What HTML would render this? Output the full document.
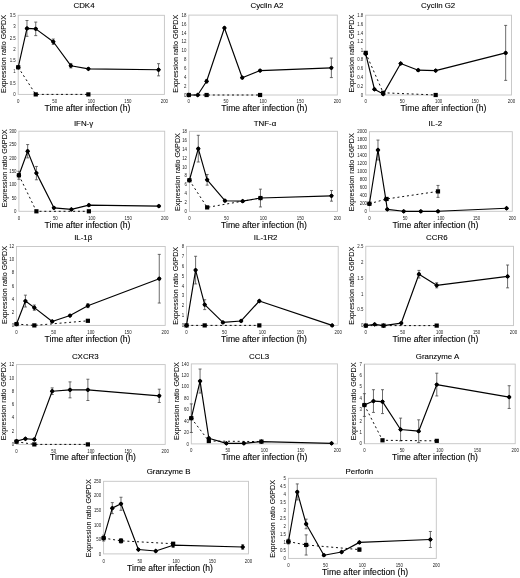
<!DOCTYPE html>
<html><head><meta charset="utf-8"><style>
html,body{margin:0;padding:0;background:#fff;}
svg{display:block;filter:blur(0.35px);}
text{font-family:"Liberation Sans",sans-serif;fill:#000;}
.tk{font-size:4.85px;fill:#222;}
.ti{font-size:7.9px;stroke:#000;stroke-width:0.1px;}
.yt{font-size:7.2px;stroke:#000;stroke-width:0.06px;}
.xt{font-size:8.65px;stroke:#000;stroke-width:0.1px;}
</style></head><body>
<svg width="520" height="578" viewBox="0 0 520 578">
<rect width="520" height="578" fill="#fff"/>
<rect x="18.2" y="15.3" width="146.20" height="79.10" fill="none" stroke="#c4c4c4" stroke-width="0.9"/>
<text transform="translate(15.80,96.05) scale(0.9,1)" class="tk" text-anchor="end">0</text>
<text transform="translate(15.80,84.75) scale(0.9,1)" class="tk" text-anchor="end">0.5</text>
<text transform="translate(15.80,73.45) scale(0.9,1)" class="tk" text-anchor="end">1</text>
<text transform="translate(15.80,62.15) scale(0.9,1)" class="tk" text-anchor="end">1.5</text>
<text transform="translate(15.80,50.85) scale(0.9,1)" class="tk" text-anchor="end">2</text>
<text transform="translate(15.80,39.55) scale(0.9,1)" class="tk" text-anchor="end">2.5</text>
<text transform="translate(15.80,28.25) scale(0.9,1)" class="tk" text-anchor="end">3</text>
<text transform="translate(15.80,16.95) scale(0.9,1)" class="tk" text-anchor="end">3.5</text>
<text transform="translate(18.20,102.65) scale(0.9,1)" class="tk" text-anchor="middle">0</text>
<text transform="translate(54.75,102.65) scale(0.9,1)" class="tk" text-anchor="middle">50</text>
<text transform="translate(91.30,102.65) scale(0.9,1)" class="tk" text-anchor="middle">100</text>
<text transform="translate(127.85,102.65) scale(0.9,1)" class="tk" text-anchor="middle">150</text>
<text transform="translate(164.40,102.65) scale(0.9,1)" class="tk" text-anchor="middle">200</text>
<text x="84" y="8.00" class="ti" text-anchor="middle">CDK4</text>
<text transform="translate(6.10,53.95) rotate(-90)" x="0" y="0" class="yt" text-anchor="middle">Expression ratio G6PDX</text>
<text x="87.45" y="111.10" class="xt" text-anchor="middle">Time after infection (h)</text>
<line x1="26.97" y1="20.50" x2="26.97" y2="36.32" stroke="#484848" stroke-width="0.8"/><line x1="25.47" y1="20.50" x2="28.47" y2="20.50" stroke="#484848" stroke-width="0.8"/><line x1="25.47" y1="36.32" x2="28.47" y2="36.32" stroke="#484848" stroke-width="0.8"/>
<line x1="35.74" y1="22.08" x2="35.74" y2="35.64" stroke="#484848" stroke-width="0.8"/><line x1="34.24" y1="22.08" x2="37.24" y2="22.08" stroke="#484848" stroke-width="0.8"/><line x1="34.24" y1="35.64" x2="37.24" y2="35.64" stroke="#484848" stroke-width="0.8"/>
<line x1="53.29" y1="39.03" x2="53.29" y2="44.45" stroke="#484848" stroke-width="0.8"/><line x1="51.79" y1="39.03" x2="54.79" y2="39.03" stroke="#484848" stroke-width="0.8"/><line x1="51.79" y1="44.45" x2="54.79" y2="44.45" stroke="#484848" stroke-width="0.8"/>
<line x1="70.83" y1="63.44" x2="70.83" y2="67.96" stroke="#484848" stroke-width="0.8"/><line x1="69.33" y1="63.44" x2="72.33" y2="63.44" stroke="#484848" stroke-width="0.8"/><line x1="69.33" y1="67.96" x2="72.33" y2="67.96" stroke="#484848" stroke-width="0.8"/>
<line x1="88.38" y1="68.18" x2="88.38" y2="69.54" stroke="#484848" stroke-width="0.8"/><line x1="86.88" y1="68.18" x2="89.88" y2="68.18" stroke="#484848" stroke-width="0.8"/><line x1="86.88" y1="69.54" x2="89.88" y2="69.54" stroke="#484848" stroke-width="0.8"/>
<line x1="158.55" y1="63.66" x2="158.55" y2="75.87" stroke="#484848" stroke-width="0.8"/><line x1="157.05" y1="63.66" x2="160.05" y2="63.66" stroke="#484848" stroke-width="0.8"/><line x1="157.05" y1="75.87" x2="160.05" y2="75.87" stroke="#484848" stroke-width="0.8"/>
<polyline points="18.20,67.28 35.74,94.40 88.38,94.40" fill="none" stroke="#000" stroke-width="0.95" stroke-dasharray="2 2.8"/>
<polyline points="18.20,67.28 26.97,28.41 35.74,28.86 53.29,41.74 70.83,65.70 88.38,68.86 158.55,69.77" fill="none" stroke="#000" stroke-width="1.15" stroke-linejoin="round"/>
<rect x="16.10" y="65.18" width="4.2" height="4.2" fill="#000"/>
<rect x="33.64" y="92.30" width="4.2" height="4.2" fill="#000"/>
<rect x="86.28" y="92.30" width="4.2" height="4.2" fill="#000"/>
<path d="M18.20 64.88L20.60 67.28L18.20 69.68L15.80 67.28Z" fill="#000"/><circle cx="18.20" cy="67.28" r="1.85" fill="#000"/>
<path d="M26.97 26.01L29.37 28.41L26.97 30.81L24.57 28.41Z" fill="#000"/><circle cx="26.97" cy="28.41" r="1.85" fill="#000"/>
<path d="M35.74 26.46L38.14 28.86L35.74 31.26L33.34 28.86Z" fill="#000"/><circle cx="35.74" cy="28.86" r="1.85" fill="#000"/>
<path d="M53.29 39.34L55.69 41.74L53.29 44.14L50.89 41.74Z" fill="#000"/><circle cx="53.29" cy="41.74" r="1.85" fill="#000"/>
<path d="M70.83 63.30L73.23 65.70L70.83 68.10L68.43 65.70Z" fill="#000"/><circle cx="70.83" cy="65.70" r="1.85" fill="#000"/>
<path d="M88.38 66.46L90.78 68.86L88.38 71.26L85.98 68.86Z" fill="#000"/><circle cx="88.38" cy="68.86" r="1.85" fill="#000"/>
<path d="M158.55 67.37L160.95 69.77L158.55 72.17L156.15 69.77Z" fill="#000"/><circle cx="158.55" cy="69.77" r="1.85" fill="#000"/>
<rect x="188.8" y="15.1" width="148.50" height="79.90" fill="none" stroke="#c4c4c4" stroke-width="0.9"/>
<text transform="translate(186.40,96.65) scale(0.9,1)" class="tk" text-anchor="end">0</text>
<text transform="translate(186.40,87.77) scale(0.9,1)" class="tk" text-anchor="end">2</text>
<text transform="translate(186.40,78.89) scale(0.9,1)" class="tk" text-anchor="end">4</text>
<text transform="translate(186.40,70.02) scale(0.9,1)" class="tk" text-anchor="end">6</text>
<text transform="translate(186.40,61.14) scale(0.9,1)" class="tk" text-anchor="end">8</text>
<text transform="translate(186.40,52.26) scale(0.9,1)" class="tk" text-anchor="end">10</text>
<text transform="translate(186.40,43.38) scale(0.9,1)" class="tk" text-anchor="end">12</text>
<text transform="translate(186.40,34.51) scale(0.9,1)" class="tk" text-anchor="end">14</text>
<text transform="translate(186.40,25.63) scale(0.9,1)" class="tk" text-anchor="end">16</text>
<text transform="translate(186.40,16.75) scale(0.9,1)" class="tk" text-anchor="end">18</text>
<text transform="translate(188.80,103.25) scale(0.9,1)" class="tk" text-anchor="middle">0</text>
<text transform="translate(225.93,103.25) scale(0.9,1)" class="tk" text-anchor="middle">50</text>
<text transform="translate(263.05,103.25) scale(0.9,1)" class="tk" text-anchor="middle">100</text>
<text transform="translate(300.18,103.25) scale(0.9,1)" class="tk" text-anchor="middle">150</text>
<text transform="translate(337.30,103.25) scale(0.9,1)" class="tk" text-anchor="middle">200</text>
<text x="266.9" y="7.90" class="ti" text-anchor="middle">Cyclin A2</text>
<text transform="translate(177.80,53.70) rotate(-90)" x="0" y="0" class="yt" text-anchor="middle">Expression ratio G6PDX</text>
<text x="264.30" y="111.10" class="xt" text-anchor="middle">Time after infection (h)</text>
<line x1="206.62" y1="79.46" x2="206.62" y2="83.02" stroke="#484848" stroke-width="0.8"/><line x1="205.12" y1="79.46" x2="208.12" y2="79.46" stroke="#484848" stroke-width="0.8"/><line x1="205.12" y1="83.02" x2="208.12" y2="83.02" stroke="#484848" stroke-width="0.8"/>
<line x1="331.36" y1="58.07" x2="331.36" y2="77.60" stroke="#484848" stroke-width="0.8"/><line x1="329.86" y1="58.07" x2="332.86" y2="58.07" stroke="#484848" stroke-width="0.8"/><line x1="329.86" y1="77.60" x2="332.86" y2="77.60" stroke="#484848" stroke-width="0.8"/>
<polyline points="188.80,95.00 206.62,95.00 260.08,95.00" fill="none" stroke="#000" stroke-width="0.95" stroke-dasharray="2 2.8"/>
<polyline points="188.80,95.00 197.71,95.00 206.62,81.24 224.44,27.97 242.26,77.69 260.08,70.59 331.36,67.83" fill="none" stroke="#000" stroke-width="1.15" stroke-linejoin="round"/>
<rect x="186.70" y="92.90" width="4.2" height="4.2" fill="#000"/>
<rect x="204.52" y="92.90" width="4.2" height="4.2" fill="#000"/>
<rect x="257.98" y="92.90" width="4.2" height="4.2" fill="#000"/>
<path d="M188.80 92.60L191.20 95.00L188.80 97.40L186.40 95.00Z" fill="#000"/><circle cx="188.80" cy="95.00" r="1.85" fill="#000"/>
<path d="M197.71 92.60L200.11 95.00L197.71 97.40L195.31 95.00Z" fill="#000"/><circle cx="197.71" cy="95.00" r="1.85" fill="#000"/>
<path d="M206.62 78.84L209.02 81.24L206.62 83.64L204.22 81.24Z" fill="#000"/><circle cx="206.62" cy="81.24" r="1.85" fill="#000"/>
<path d="M224.44 25.57L226.84 27.97L224.44 30.37L222.04 27.97Z" fill="#000"/><circle cx="224.44" cy="27.97" r="1.85" fill="#000"/>
<path d="M242.26 75.29L244.66 77.69L242.26 80.09L239.86 77.69Z" fill="#000"/><circle cx="242.26" cy="77.69" r="1.85" fill="#000"/>
<path d="M260.08 68.19L262.48 70.59L260.08 72.99L257.68 70.59Z" fill="#000"/><circle cx="260.08" cy="70.59" r="1.85" fill="#000"/>
<path d="M331.36 65.43L333.76 67.83L331.36 70.23L328.96 67.83Z" fill="#000"/><circle cx="331.36" cy="67.83" r="1.85" fill="#000"/>
<rect x="365.7" y="15.2" width="145.80" height="79.80" fill="none" stroke="#c4c4c4" stroke-width="0.9"/>
<text transform="translate(363.30,96.65) scale(0.9,1)" class="tk" text-anchor="end">0</text>
<text transform="translate(363.30,87.78) scale(0.9,1)" class="tk" text-anchor="end">0.2</text>
<text transform="translate(363.30,78.92) scale(0.9,1)" class="tk" text-anchor="end">0.4</text>
<text transform="translate(363.30,70.05) scale(0.9,1)" class="tk" text-anchor="end">0.6</text>
<text transform="translate(363.30,61.18) scale(0.9,1)" class="tk" text-anchor="end">0.8</text>
<text transform="translate(363.30,52.32) scale(0.9,1)" class="tk" text-anchor="end">1</text>
<text transform="translate(363.30,43.45) scale(0.9,1)" class="tk" text-anchor="end">1.2</text>
<text transform="translate(363.30,34.58) scale(0.9,1)" class="tk" text-anchor="end">1.4</text>
<text transform="translate(363.30,25.72) scale(0.9,1)" class="tk" text-anchor="end">1.6</text>
<text transform="translate(363.30,16.85) scale(0.9,1)" class="tk" text-anchor="end">1.8</text>
<text transform="translate(365.70,103.25) scale(0.9,1)" class="tk" text-anchor="middle">0</text>
<text transform="translate(402.15,103.25) scale(0.9,1)" class="tk" text-anchor="middle">50</text>
<text transform="translate(438.60,103.25) scale(0.9,1)" class="tk" text-anchor="middle">100</text>
<text transform="translate(475.05,103.25) scale(0.9,1)" class="tk" text-anchor="middle">150</text>
<text transform="translate(511.50,103.25) scale(0.9,1)" class="tk" text-anchor="middle">200</text>
<text x="438.15" y="7.90" class="ti" text-anchor="middle">Cyclin G2</text>
<text transform="translate(353.60,53.65) rotate(-90)" x="0" y="0" class="yt" text-anchor="middle">Expression ratio G6PDX</text>
<text x="443.40" y="111.10" class="xt" text-anchor="middle">Time after infection (h)</text>
<line x1="505.67" y1="25.40" x2="505.67" y2="80.37" stroke="#484848" stroke-width="0.8"/><line x1="504.17" y1="25.40" x2="507.17" y2="25.40" stroke="#484848" stroke-width="0.8"/><line x1="504.17" y1="80.37" x2="507.17" y2="80.37" stroke="#484848" stroke-width="0.8"/>
<polyline points="365.70,52.88 383.20,92.78 435.68,95.00" fill="none" stroke="#000" stroke-width="0.95" stroke-dasharray="2 2.8"/>
<polyline points="365.70,53.77 374.45,89.24 383.20,94.11 400.69,63.52 418.19,70.17 435.68,70.62 505.67,52.88" fill="none" stroke="#000" stroke-width="1.15" stroke-linejoin="round"/>
<rect x="363.60" y="50.78" width="4.2" height="4.2" fill="#000"/>
<rect x="381.10" y="90.68" width="4.2" height="4.2" fill="#000"/>
<rect x="433.58" y="92.90" width="4.2" height="4.2" fill="#000"/>
<path d="M365.70 51.37L368.10 53.77L365.70 56.17L363.30 53.77Z" fill="#000"/><circle cx="365.70" cy="53.77" r="1.85" fill="#000"/>
<path d="M374.45 86.84L376.85 89.24L374.45 91.64L372.05 89.24Z" fill="#000"/><circle cx="374.45" cy="89.24" r="1.85" fill="#000"/>
<path d="M383.20 91.71L385.60 94.11L383.20 96.51L380.80 94.11Z" fill="#000"/><circle cx="383.20" cy="94.11" r="1.85" fill="#000"/>
<path d="M400.69 61.12L403.09 63.52L400.69 65.92L398.29 63.52Z" fill="#000"/><circle cx="400.69" cy="63.52" r="1.85" fill="#000"/>
<path d="M418.19 67.77L420.59 70.17L418.19 72.57L415.79 70.17Z" fill="#000"/><circle cx="418.19" cy="70.17" r="1.85" fill="#000"/>
<path d="M435.68 68.22L438.08 70.62L435.68 73.02L433.28 70.62Z" fill="#000"/><circle cx="435.68" cy="70.62" r="1.85" fill="#000"/>
<path d="M505.67 50.48L508.07 52.88L505.67 55.28L503.27 52.88Z" fill="#000"/><circle cx="505.67" cy="52.88" r="1.85" fill="#000"/>
<rect x="18.9" y="131.2" width="145.80" height="80.10" fill="none" stroke="#c4c4c4" stroke-width="0.9"/>
<text transform="translate(16.50,212.95) scale(0.9,1)" class="tk" text-anchor="end">0</text>
<text transform="translate(16.50,199.60) scale(0.9,1)" class="tk" text-anchor="end">50</text>
<text transform="translate(16.50,186.25) scale(0.9,1)" class="tk" text-anchor="end">100</text>
<text transform="translate(16.50,172.90) scale(0.9,1)" class="tk" text-anchor="end">150</text>
<text transform="translate(16.50,159.55) scale(0.9,1)" class="tk" text-anchor="end">200</text>
<text transform="translate(16.50,146.20) scale(0.9,1)" class="tk" text-anchor="end">250</text>
<text transform="translate(16.50,132.85) scale(0.9,1)" class="tk" text-anchor="end">300</text>
<text transform="translate(18.90,219.55) scale(0.9,1)" class="tk" text-anchor="middle">0</text>
<text transform="translate(55.35,219.55) scale(0.9,1)" class="tk" text-anchor="middle">50</text>
<text transform="translate(91.80,219.55) scale(0.9,1)" class="tk" text-anchor="middle">100</text>
<text transform="translate(128.25,219.55) scale(0.9,1)" class="tk" text-anchor="middle">150</text>
<text transform="translate(164.70,219.55) scale(0.9,1)" class="tk" text-anchor="middle">200</text>
<text x="83.55" y="125.60" class="ti" text-anchor="middle">IFN-γ</text>
<text transform="translate(6.60,168.30) rotate(-90)" x="0" y="0" class="yt" text-anchor="middle">Expression ratio G6PDX</text>
<text x="87.50" y="227.50" class="xt" text-anchor="middle">Time after infection (h)</text>
<line x1="18.90" y1="171.25" x2="18.90" y2="179.26" stroke="#484848" stroke-width="0.8"/><line x1="17.40" y1="171.25" x2="20.40" y2="171.25" stroke="#484848" stroke-width="0.8"/><line x1="17.40" y1="179.26" x2="20.40" y2="179.26" stroke="#484848" stroke-width="0.8"/>
<line x1="27.65" y1="144.55" x2="27.65" y2="157.90" stroke="#484848" stroke-width="0.8"/><line x1="26.15" y1="144.55" x2="29.15" y2="144.55" stroke="#484848" stroke-width="0.8"/><line x1="26.15" y1="157.90" x2="29.15" y2="157.90" stroke="#484848" stroke-width="0.8"/>
<line x1="36.40" y1="166.44" x2="36.40" y2="179.79" stroke="#484848" stroke-width="0.8"/><line x1="34.90" y1="166.44" x2="37.90" y2="166.44" stroke="#484848" stroke-width="0.8"/><line x1="34.90" y1="179.79" x2="37.90" y2="179.79" stroke="#484848" stroke-width="0.8"/>
<polyline points="18.90,175.25 36.40,211.30 88.88,211.30" fill="none" stroke="#000" stroke-width="0.95" stroke-dasharray="2 2.8"/>
<polyline points="18.90,175.25 27.65,151.22 36.40,173.12 53.89,207.83 71.39,209.43 88.88,205.16 158.87,206.09" fill="none" stroke="#000" stroke-width="1.15" stroke-linejoin="round"/>
<rect x="16.80" y="173.16" width="4.2" height="4.2" fill="#000"/>
<rect x="34.30" y="209.20" width="4.2" height="4.2" fill="#000"/>
<rect x="86.78" y="209.20" width="4.2" height="4.2" fill="#000"/>
<path d="M18.90 172.85L21.30 175.25L18.90 177.66L16.50 175.25Z" fill="#000"/><circle cx="18.90" cy="175.25" r="1.85" fill="#000"/>
<path d="M27.65 148.82L30.05 151.22L27.65 153.62L25.25 151.22Z" fill="#000"/><circle cx="27.65" cy="151.22" r="1.85" fill="#000"/>
<path d="M36.40 170.72L38.80 173.12L36.40 175.52L34.00 173.12Z" fill="#000"/><circle cx="36.40" cy="173.12" r="1.85" fill="#000"/>
<path d="M53.89 205.43L56.29 207.83L53.89 210.23L51.49 207.83Z" fill="#000"/><circle cx="53.89" cy="207.83" r="1.85" fill="#000"/>
<path d="M71.39 207.03L73.79 209.43L71.39 211.83L68.99 209.43Z" fill="#000"/><circle cx="71.39" cy="209.43" r="1.85" fill="#000"/>
<path d="M88.88 202.76L91.28 205.16L88.88 207.56L86.48 205.16Z" fill="#000"/><circle cx="88.88" cy="205.16" r="1.85" fill="#000"/>
<path d="M158.87 203.69L161.27 206.09L158.87 208.49L156.47 206.09Z" fill="#000"/><circle cx="158.87" cy="206.09" r="1.85" fill="#000"/>
<rect x="189.4" y="131.3" width="148.00" height="80.10" fill="none" stroke="#c4c4c4" stroke-width="0.9"/>
<text transform="translate(187.00,213.05) scale(0.9,1)" class="tk" text-anchor="end">0</text>
<text transform="translate(187.00,204.15) scale(0.9,1)" class="tk" text-anchor="end">2</text>
<text transform="translate(187.00,195.25) scale(0.9,1)" class="tk" text-anchor="end">4</text>
<text transform="translate(187.00,186.35) scale(0.9,1)" class="tk" text-anchor="end">6</text>
<text transform="translate(187.00,177.45) scale(0.9,1)" class="tk" text-anchor="end">8</text>
<text transform="translate(187.00,168.55) scale(0.9,1)" class="tk" text-anchor="end">10</text>
<text transform="translate(187.00,159.65) scale(0.9,1)" class="tk" text-anchor="end">12</text>
<text transform="translate(187.00,150.75) scale(0.9,1)" class="tk" text-anchor="end">14</text>
<text transform="translate(187.00,141.85) scale(0.9,1)" class="tk" text-anchor="end">16</text>
<text transform="translate(187.00,132.95) scale(0.9,1)" class="tk" text-anchor="end">18</text>
<text transform="translate(189.40,219.65) scale(0.9,1)" class="tk" text-anchor="middle">0</text>
<text transform="translate(226.40,219.65) scale(0.9,1)" class="tk" text-anchor="middle">50</text>
<text transform="translate(263.40,219.65) scale(0.9,1)" class="tk" text-anchor="middle">100</text>
<text transform="translate(300.40,219.65) scale(0.9,1)" class="tk" text-anchor="middle">150</text>
<text transform="translate(337.40,219.65) scale(0.9,1)" class="tk" text-anchor="middle">200</text>
<text x="265" y="125.60" class="ti" text-anchor="middle">TNF-α</text>
<text transform="translate(179.60,172.05) rotate(-90)" x="0" y="0" class="yt" text-anchor="middle">Expression ratio G6PDX</text>
<text x="264.00" y="227.50" class="xt" text-anchor="middle">Time after infection (h)</text>
<line x1="198.28" y1="135.31" x2="198.28" y2="162.00" stroke="#484848" stroke-width="0.8"/><line x1="196.78" y1="135.31" x2="199.78" y2="135.31" stroke="#484848" stroke-width="0.8"/><line x1="196.78" y1="162.00" x2="199.78" y2="162.00" stroke="#484848" stroke-width="0.8"/>
<line x1="207.16" y1="174.47" x2="207.16" y2="185.15" stroke="#484848" stroke-width="0.8"/><line x1="205.66" y1="174.47" x2="208.66" y2="174.47" stroke="#484848" stroke-width="0.8"/><line x1="205.66" y1="185.15" x2="208.66" y2="185.15" stroke="#484848" stroke-width="0.8"/>
<line x1="260.44" y1="189.15" x2="260.44" y2="206.95" stroke="#484848" stroke-width="0.8"/><line x1="258.94" y1="189.15" x2="261.94" y2="189.15" stroke="#484848" stroke-width="0.8"/><line x1="258.94" y1="206.95" x2="261.94" y2="206.95" stroke="#484848" stroke-width="0.8"/>
<line x1="331.48" y1="190.49" x2="331.48" y2="201.17" stroke="#484848" stroke-width="0.8"/><line x1="329.98" y1="190.49" x2="332.98" y2="190.49" stroke="#484848" stroke-width="0.8"/><line x1="329.98" y1="201.17" x2="332.98" y2="201.17" stroke="#484848" stroke-width="0.8"/>
<polyline points="189.40,180.25 207.16,207.40 260.44,198.05" fill="none" stroke="#000" stroke-width="0.95" stroke-dasharray="2 2.8"/>
<polyline points="189.40,180.25 198.28,148.66 207.16,179.81 224.92,200.72 242.68,201.17 260.44,198.05 331.48,195.83" fill="none" stroke="#000" stroke-width="1.15" stroke-linejoin="round"/>
<rect x="187.30" y="178.15" width="4.2" height="4.2" fill="#000"/>
<rect x="205.06" y="205.30" width="4.2" height="4.2" fill="#000"/>
<rect x="258.34" y="195.95" width="4.2" height="4.2" fill="#000"/>
<path d="M189.40 177.85L191.80 180.25L189.40 182.65L187.00 180.25Z" fill="#000"/><circle cx="189.40" cy="180.25" r="1.85" fill="#000"/>
<path d="M198.28 146.26L200.68 148.66L198.28 151.06L195.88 148.66Z" fill="#000"/><circle cx="198.28" cy="148.66" r="1.85" fill="#000"/>
<path d="M207.16 177.41L209.56 179.81L207.16 182.21L204.76 179.81Z" fill="#000"/><circle cx="207.16" cy="179.81" r="1.85" fill="#000"/>
<path d="M224.92 198.32L227.32 200.72L224.92 203.12L222.52 200.72Z" fill="#000"/><circle cx="224.92" cy="200.72" r="1.85" fill="#000"/>
<path d="M242.68 198.77L245.08 201.17L242.68 203.57L240.28 201.17Z" fill="#000"/><circle cx="242.68" cy="201.17" r="1.85" fill="#000"/>
<path d="M260.44 195.65L262.84 198.05L260.44 200.45L258.04 198.05Z" fill="#000"/><circle cx="260.44" cy="198.05" r="1.85" fill="#000"/>
<path d="M331.48 193.43L333.88 195.83L331.48 198.23L329.08 195.83Z" fill="#000"/><circle cx="331.48" cy="195.83" r="1.85" fill="#000"/>
<rect x="369.4" y="131.7" width="142.90" height="79.60" fill="none" stroke="#c4c4c4" stroke-width="0.9"/>
<text transform="translate(367.00,212.95) scale(0.9,1)" class="tk" text-anchor="end">0</text>
<text transform="translate(367.00,204.99) scale(0.9,1)" class="tk" text-anchor="end">200</text>
<text transform="translate(367.00,197.03) scale(0.9,1)" class="tk" text-anchor="end">400</text>
<text transform="translate(367.00,189.07) scale(0.9,1)" class="tk" text-anchor="end">600</text>
<text transform="translate(367.00,181.11) scale(0.9,1)" class="tk" text-anchor="end">800</text>
<text transform="translate(367.00,173.15) scale(0.9,1)" class="tk" text-anchor="end">1000</text>
<text transform="translate(367.00,165.19) scale(0.9,1)" class="tk" text-anchor="end">1200</text>
<text transform="translate(367.00,157.23) scale(0.9,1)" class="tk" text-anchor="end">1400</text>
<text transform="translate(367.00,149.27) scale(0.9,1)" class="tk" text-anchor="end">1600</text>
<text transform="translate(367.00,141.31) scale(0.9,1)" class="tk" text-anchor="end">1800</text>
<text transform="translate(367.00,133.35) scale(0.9,1)" class="tk" text-anchor="end">2000</text>
<text transform="translate(369.40,219.55) scale(0.9,1)" class="tk" text-anchor="middle">0</text>
<text transform="translate(405.12,219.55) scale(0.9,1)" class="tk" text-anchor="middle">50</text>
<text transform="translate(440.85,219.55) scale(0.9,1)" class="tk" text-anchor="middle">100</text>
<text transform="translate(476.57,219.55) scale(0.9,1)" class="tk" text-anchor="middle">150</text>
<text transform="translate(512.30,219.55) scale(0.9,1)" class="tk" text-anchor="middle">200</text>
<text x="435.4" y="125.60" class="ti" text-anchor="middle">IL-2</text>
<text transform="translate(353.50,172.25) rotate(-90)" x="0" y="0" class="yt" text-anchor="middle">Expression ratio G6PDX</text>
<text x="435.40" y="227.70" class="xt" text-anchor="middle">Time after infection (h)</text>
<line x1="377.97" y1="140.06" x2="377.97" y2="159.96" stroke="#484848" stroke-width="0.8"/><line x1="376.47" y1="140.06" x2="379.47" y2="140.06" stroke="#484848" stroke-width="0.8"/><line x1="376.47" y1="159.96" x2="379.47" y2="159.96" stroke="#484848" stroke-width="0.8"/>
<line x1="437.99" y1="185.43" x2="437.99" y2="197.37" stroke="#484848" stroke-width="0.8"/><line x1="436.49" y1="185.43" x2="439.49" y2="185.43" stroke="#484848" stroke-width="0.8"/><line x1="436.49" y1="197.37" x2="439.49" y2="197.37" stroke="#484848" stroke-width="0.8"/>
<polyline points="369.40,203.74 386.55,198.96 437.99,191.40" fill="none" stroke="#000" stroke-width="0.95" stroke-dasharray="2 2.8"/>
<polyline points="369.40,203.74 377.97,150.01 385.83,199.36 387.26,209.31 403.70,211.30 420.84,211.30 437.99,211.30 506.58,208.24" fill="none" stroke="#000" stroke-width="1.15" stroke-linejoin="round"/>
<rect x="367.30" y="201.64" width="4.2" height="4.2" fill="#000"/>
<rect x="384.45" y="196.86" width="4.2" height="4.2" fill="#000"/>
<rect x="435.89" y="189.30" width="4.2" height="4.2" fill="#000"/>
<path d="M369.40 201.34L371.80 203.74L369.40 206.14L367.00 203.74Z" fill="#000"/><circle cx="369.40" cy="203.74" r="1.85" fill="#000"/>
<path d="M377.97 147.61L380.37 150.01L377.97 152.41L375.57 150.01Z" fill="#000"/><circle cx="377.97" cy="150.01" r="1.85" fill="#000"/>
<path d="M385.83 196.96L388.23 199.36L385.83 201.76L383.43 199.36Z" fill="#000"/><circle cx="385.83" cy="199.36" r="1.85" fill="#000"/>
<path d="M387.26 206.91L389.66 209.31L387.26 211.71L384.86 209.31Z" fill="#000"/><circle cx="387.26" cy="209.31" r="1.85" fill="#000"/>
<path d="M403.70 208.90L406.10 211.30L403.70 213.70L401.30 211.30Z" fill="#000"/><circle cx="403.70" cy="211.30" r="1.85" fill="#000"/>
<path d="M420.84 208.90L423.24 211.30L420.84 213.70L418.44 211.30Z" fill="#000"/><circle cx="420.84" cy="211.30" r="1.85" fill="#000"/>
<path d="M437.99 208.90L440.39 211.30L437.99 213.70L435.59 211.30Z" fill="#000"/><circle cx="437.99" cy="211.30" r="1.85" fill="#000"/>
<path d="M506.58 205.84L508.98 208.24L506.58 210.64L504.18 208.24Z" fill="#000"/><circle cx="506.58" cy="208.24" r="1.85" fill="#000"/>
<rect x="16.5" y="246.5" width="148.70" height="78.90" fill="none" stroke="#c4c4c4" stroke-width="0.9"/>
<text transform="translate(14.10,327.05) scale(0.9,1)" class="tk" text-anchor="end">0</text>
<text transform="translate(14.10,313.90) scale(0.9,1)" class="tk" text-anchor="end">2</text>
<text transform="translate(14.10,300.75) scale(0.9,1)" class="tk" text-anchor="end">4</text>
<text transform="translate(14.10,287.60) scale(0.9,1)" class="tk" text-anchor="end">6</text>
<text transform="translate(14.10,274.45) scale(0.9,1)" class="tk" text-anchor="end">8</text>
<text transform="translate(14.10,261.30) scale(0.9,1)" class="tk" text-anchor="end">10</text>
<text transform="translate(14.10,248.15) scale(0.9,1)" class="tk" text-anchor="end">12</text>
<text transform="translate(16.50,333.65) scale(0.9,1)" class="tk" text-anchor="middle">0</text>
<text transform="translate(53.67,333.65) scale(0.9,1)" class="tk" text-anchor="middle">50</text>
<text transform="translate(90.85,333.65) scale(0.9,1)" class="tk" text-anchor="middle">100</text>
<text transform="translate(128.03,333.65) scale(0.9,1)" class="tk" text-anchor="middle">150</text>
<text transform="translate(165.20,333.65) scale(0.9,1)" class="tk" text-anchor="middle">200</text>
<text x="83.2" y="240.40" class="ti" text-anchor="middle">IL-1β</text>
<text transform="translate(6.50,284.95) rotate(-90)" x="0" y="0" class="yt" text-anchor="middle">Expression ratio G6PDX</text>
<text x="87.50" y="342.30" class="xt" text-anchor="middle">Time after infection (h)</text>
<line x1="25.42" y1="295.15" x2="25.42" y2="306.99" stroke="#484848" stroke-width="0.8"/><line x1="23.92" y1="295.15" x2="26.92" y2="295.15" stroke="#484848" stroke-width="0.8"/><line x1="23.92" y1="306.99" x2="26.92" y2="306.99" stroke="#484848" stroke-width="0.8"/>
<line x1="34.34" y1="305.02" x2="34.34" y2="310.28" stroke="#484848" stroke-width="0.8"/><line x1="32.84" y1="305.02" x2="35.84" y2="305.02" stroke="#484848" stroke-width="0.8"/><line x1="32.84" y1="310.28" x2="35.84" y2="310.28" stroke="#484848" stroke-width="0.8"/>
<line x1="87.88" y1="303.70" x2="87.88" y2="307.65" stroke="#484848" stroke-width="0.8"/><line x1="86.38" y1="303.70" x2="89.38" y2="303.70" stroke="#484848" stroke-width="0.8"/><line x1="86.38" y1="307.65" x2="89.38" y2="307.65" stroke="#484848" stroke-width="0.8"/>
<line x1="159.25" y1="254.39" x2="159.25" y2="303.04" stroke="#484848" stroke-width="0.8"/><line x1="157.75" y1="254.39" x2="160.75" y2="254.39" stroke="#484848" stroke-width="0.8"/><line x1="157.75" y1="303.04" x2="160.75" y2="303.04" stroke="#484848" stroke-width="0.8"/>
<polyline points="16.50,324.08 34.34,325.40 87.88,320.80" fill="none" stroke="#000" stroke-width="0.95" stroke-dasharray="2 2.8"/>
<polyline points="16.50,324.08 25.42,301.07 34.34,307.65 52.19,321.45 70.03,315.54 87.88,305.67 159.25,278.72" fill="none" stroke="#000" stroke-width="1.15" stroke-linejoin="round"/>
<rect x="14.40" y="321.98" width="4.2" height="4.2" fill="#000"/>
<rect x="32.24" y="323.30" width="4.2" height="4.2" fill="#000"/>
<rect x="85.78" y="318.70" width="4.2" height="4.2" fill="#000"/>
<path d="M16.50 321.69L18.90 324.08L16.50 326.48L14.10 324.08Z" fill="#000"/><circle cx="16.50" cy="324.08" r="1.85" fill="#000"/>
<path d="M25.42 298.67L27.82 301.07L25.42 303.47L23.02 301.07Z" fill="#000"/><circle cx="25.42" cy="301.07" r="1.85" fill="#000"/>
<path d="M34.34 305.25L36.74 307.65L34.34 310.05L31.94 307.65Z" fill="#000"/><circle cx="34.34" cy="307.65" r="1.85" fill="#000"/>
<path d="M52.19 319.06L54.59 321.45L52.19 323.85L49.79 321.45Z" fill="#000"/><circle cx="52.19" cy="321.45" r="1.85" fill="#000"/>
<path d="M70.03 313.14L72.43 315.54L70.03 317.94L67.63 315.54Z" fill="#000"/><circle cx="70.03" cy="315.54" r="1.85" fill="#000"/>
<path d="M87.88 303.27L90.28 305.67L87.88 308.07L85.48 305.67Z" fill="#000"/><circle cx="87.88" cy="305.67" r="1.85" fill="#000"/>
<path d="M159.25 276.32L161.65 278.72L159.25 281.12L156.85 278.72Z" fill="#000"/><circle cx="159.25" cy="278.72" r="1.85" fill="#000"/>
<rect x="186.5" y="246.4" width="151.70" height="79.00" fill="none" stroke="#c4c4c4" stroke-width="0.9"/>
<text transform="translate(184.10,327.05) scale(0.9,1)" class="tk" text-anchor="end">0</text>
<text transform="translate(184.10,317.17) scale(0.9,1)" class="tk" text-anchor="end">1</text>
<text transform="translate(184.10,307.30) scale(0.9,1)" class="tk" text-anchor="end">2</text>
<text transform="translate(184.10,297.42) scale(0.9,1)" class="tk" text-anchor="end">3</text>
<text transform="translate(184.10,287.55) scale(0.9,1)" class="tk" text-anchor="end">4</text>
<text transform="translate(184.10,277.67) scale(0.9,1)" class="tk" text-anchor="end">5</text>
<text transform="translate(184.10,267.80) scale(0.9,1)" class="tk" text-anchor="end">6</text>
<text transform="translate(184.10,257.92) scale(0.9,1)" class="tk" text-anchor="end">7</text>
<text transform="translate(184.10,248.05) scale(0.9,1)" class="tk" text-anchor="end">8</text>
<text transform="translate(186.50,333.65) scale(0.9,1)" class="tk" text-anchor="middle">0</text>
<text transform="translate(224.43,333.65) scale(0.9,1)" class="tk" text-anchor="middle">50</text>
<text transform="translate(262.35,333.65) scale(0.9,1)" class="tk" text-anchor="middle">100</text>
<text transform="translate(300.27,333.65) scale(0.9,1)" class="tk" text-anchor="middle">150</text>
<text transform="translate(338.20,333.65) scale(0.9,1)" class="tk" text-anchor="middle">200</text>
<text x="265.65" y="240.40" class="ti" text-anchor="middle">IL-1R2</text>
<text transform="translate(178.20,285.80) rotate(-90)" x="0" y="0" class="yt" text-anchor="middle">Expression ratio G6PDX</text>
<text x="264.00" y="342.30" class="xt" text-anchor="middle">Time after infection (h)</text>
<line x1="195.60" y1="256.27" x2="195.60" y2="283.93" stroke="#484848" stroke-width="0.8"/><line x1="194.10" y1="256.27" x2="197.10" y2="256.27" stroke="#484848" stroke-width="0.8"/><line x1="194.10" y1="283.93" x2="197.10" y2="283.93" stroke="#484848" stroke-width="0.8"/>
<line x1="204.70" y1="299.72" x2="204.70" y2="309.60" stroke="#484848" stroke-width="0.8"/><line x1="203.20" y1="299.72" x2="206.20" y2="299.72" stroke="#484848" stroke-width="0.8"/><line x1="203.20" y1="309.60" x2="206.20" y2="309.60" stroke="#484848" stroke-width="0.8"/>
<polyline points="186.50,325.40 204.70,325.40 259.32,325.40" fill="none" stroke="#000" stroke-width="0.95" stroke-dasharray="2 2.8"/>
<polyline points="186.50,325.40 195.60,270.10 204.70,304.66 222.91,322.44 241.11,320.96 259.32,301.01 332.13,325.40" fill="none" stroke="#000" stroke-width="1.15" stroke-linejoin="round"/>
<rect x="184.40" y="323.30" width="4.2" height="4.2" fill="#000"/>
<rect x="202.60" y="323.30" width="4.2" height="4.2" fill="#000"/>
<rect x="257.22" y="323.30" width="4.2" height="4.2" fill="#000"/>
<path d="M186.50 323.00L188.90 325.40L186.50 327.80L184.10 325.40Z" fill="#000"/><circle cx="186.50" cy="325.40" r="1.85" fill="#000"/>
<path d="M195.60 267.70L198.00 270.10L195.60 272.50L193.20 270.10Z" fill="#000"/><circle cx="195.60" cy="270.10" r="1.85" fill="#000"/>
<path d="M204.70 302.26L207.10 304.66L204.70 307.06L202.30 304.66Z" fill="#000"/><circle cx="204.70" cy="304.66" r="1.85" fill="#000"/>
<path d="M222.91 320.04L225.31 322.44L222.91 324.84L220.51 322.44Z" fill="#000"/><circle cx="222.91" cy="322.44" r="1.85" fill="#000"/>
<path d="M241.11 318.56L243.51 320.96L241.11 323.36L238.71 320.96Z" fill="#000"/><circle cx="241.11" cy="320.96" r="1.85" fill="#000"/>
<path d="M259.32 298.61L261.72 301.01L259.32 303.41L256.92 301.01Z" fill="#000"/><circle cx="259.32" cy="301.01" r="1.85" fill="#000"/>
<path d="M332.13 323.00L334.53 325.40L332.13 327.80L329.73 325.40Z" fill="#000"/><circle cx="332.13" cy="325.40" r="1.85" fill="#000"/>
<rect x="365.8" y="246.3" width="147.70" height="79.30" fill="none" stroke="#c4c4c4" stroke-width="0.9"/>
<text transform="translate(363.40,327.25) scale(0.9,1)" class="tk" text-anchor="end">0</text>
<text transform="translate(363.40,311.39) scale(0.9,1)" class="tk" text-anchor="end">0.5</text>
<text transform="translate(363.40,295.53) scale(0.9,1)" class="tk" text-anchor="end">1</text>
<text transform="translate(363.40,279.67) scale(0.9,1)" class="tk" text-anchor="end">1.5</text>
<text transform="translate(363.40,263.81) scale(0.9,1)" class="tk" text-anchor="end">2</text>
<text transform="translate(363.40,247.95) scale(0.9,1)" class="tk" text-anchor="end">2.5</text>
<text transform="translate(365.80,333.85) scale(0.9,1)" class="tk" text-anchor="middle">0</text>
<text transform="translate(402.73,333.85) scale(0.9,1)" class="tk" text-anchor="middle">50</text>
<text transform="translate(439.65,333.85) scale(0.9,1)" class="tk" text-anchor="middle">100</text>
<text transform="translate(476.58,333.85) scale(0.9,1)" class="tk" text-anchor="middle">150</text>
<text transform="translate(513.50,333.85) scale(0.9,1)" class="tk" text-anchor="middle">200</text>
<text x="436.85" y="240.40" class="ti" text-anchor="middle">CCR6</text>
<text transform="translate(353.50,285.70) rotate(-90)" x="0" y="0" class="yt" text-anchor="middle">Expression ratio G6PDX</text>
<text x="435.40" y="342.30" class="xt" text-anchor="middle">Time after infection (h)</text>
<line x1="418.97" y1="270.41" x2="418.97" y2="278.02" stroke="#484848" stroke-width="0.8"/><line x1="417.47" y1="270.41" x2="420.47" y2="270.41" stroke="#484848" stroke-width="0.8"/><line x1="417.47" y1="278.02" x2="420.47" y2="278.02" stroke="#484848" stroke-width="0.8"/>
<line x1="436.70" y1="282.78" x2="436.70" y2="287.85" stroke="#484848" stroke-width="0.8"/><line x1="435.20" y1="282.78" x2="438.20" y2="282.78" stroke="#484848" stroke-width="0.8"/><line x1="435.20" y1="287.85" x2="438.20" y2="287.85" stroke="#484848" stroke-width="0.8"/>
<line x1="507.59" y1="265.01" x2="507.59" y2="287.85" stroke="#484848" stroke-width="0.8"/><line x1="506.09" y1="265.01" x2="509.09" y2="265.01" stroke="#484848" stroke-width="0.8"/><line x1="506.09" y1="287.85" x2="509.09" y2="287.85" stroke="#484848" stroke-width="0.8"/>
<polyline points="365.80,325.60 383.52,325.60 436.70,325.60" fill="none" stroke="#000" stroke-width="0.95" stroke-dasharray="2 2.8"/>
<polyline points="365.80,325.60 374.66,324.33 383.52,325.60 401.25,323.06 418.97,274.21 436.70,285.32 507.59,276.43" fill="none" stroke="#000" stroke-width="1.15" stroke-linejoin="round"/>
<rect x="363.70" y="323.50" width="4.2" height="4.2" fill="#000"/>
<rect x="381.42" y="323.50" width="4.2" height="4.2" fill="#000"/>
<rect x="434.60" y="323.50" width="4.2" height="4.2" fill="#000"/>
<path d="M365.80 323.20L368.20 325.60L365.80 328.00L363.40 325.60Z" fill="#000"/><circle cx="365.80" cy="325.60" r="1.85" fill="#000"/>
<path d="M374.66 321.93L377.06 324.33L374.66 326.73L372.26 324.33Z" fill="#000"/><circle cx="374.66" cy="324.33" r="1.85" fill="#000"/>
<path d="M383.52 323.20L385.92 325.60L383.52 328.00L381.12 325.60Z" fill="#000"/><circle cx="383.52" cy="325.60" r="1.85" fill="#000"/>
<path d="M401.25 320.66L403.65 323.06L401.25 325.46L398.85 323.06Z" fill="#000"/><circle cx="401.25" cy="323.06" r="1.85" fill="#000"/>
<path d="M418.97 271.81L421.37 274.21L418.97 276.61L416.57 274.21Z" fill="#000"/><circle cx="418.97" cy="274.21" r="1.85" fill="#000"/>
<path d="M436.70 282.92L439.10 285.32L436.70 287.72L434.30 285.32Z" fill="#000"/><circle cx="436.70" cy="285.32" r="1.85" fill="#000"/>
<path d="M507.59 274.03L509.99 276.43L507.59 278.83L505.19 276.43Z" fill="#000"/><circle cx="507.59" cy="276.43" r="1.85" fill="#000"/>
<rect x="16.5" y="364.6" width="148.70" height="79.80" fill="none" stroke="#c4c4c4" stroke-width="0.9"/>
<text transform="translate(14.10,446.05) scale(0.9,1)" class="tk" text-anchor="end">0</text>
<text transform="translate(14.10,432.75) scale(0.9,1)" class="tk" text-anchor="end">2</text>
<text transform="translate(14.10,419.45) scale(0.9,1)" class="tk" text-anchor="end">4</text>
<text transform="translate(14.10,406.15) scale(0.9,1)" class="tk" text-anchor="end">6</text>
<text transform="translate(14.10,392.85) scale(0.9,1)" class="tk" text-anchor="end">8</text>
<text transform="translate(14.10,379.55) scale(0.9,1)" class="tk" text-anchor="end">10</text>
<text transform="translate(14.10,366.25) scale(0.9,1)" class="tk" text-anchor="end">12</text>
<text transform="translate(16.50,452.65) scale(0.9,1)" class="tk" text-anchor="middle">0</text>
<text transform="translate(53.67,452.65) scale(0.9,1)" class="tk" text-anchor="middle">50</text>
<text transform="translate(90.85,452.65) scale(0.9,1)" class="tk" text-anchor="middle">100</text>
<text transform="translate(128.03,452.65) scale(0.9,1)" class="tk" text-anchor="middle">150</text>
<text transform="translate(165.20,452.65) scale(0.9,1)" class="tk" text-anchor="middle">200</text>
<text x="85.3" y="358.90" class="ti" text-anchor="middle">CXCR3</text>
<text transform="translate(6.30,401.25) rotate(-90)" x="0" y="0" class="yt" text-anchor="middle">Expression ratio G6PDX</text>
<text x="93.00" y="460.20" class="xt" text-anchor="middle">Time after infection (h)</text>
<line x1="52.19" y1="387.88" x2="52.19" y2="394.52" stroke="#484848" stroke-width="0.8"/><line x1="50.69" y1="387.88" x2="53.69" y2="387.88" stroke="#484848" stroke-width="0.8"/><line x1="50.69" y1="394.52" x2="53.69" y2="394.52" stroke="#484848" stroke-width="0.8"/>
<line x1="70.03" y1="381.89" x2="70.03" y2="397.85" stroke="#484848" stroke-width="0.8"/><line x1="68.53" y1="381.89" x2="71.53" y2="381.89" stroke="#484848" stroke-width="0.8"/><line x1="68.53" y1="397.85" x2="71.53" y2="397.85" stroke="#484848" stroke-width="0.8"/>
<line x1="87.88" y1="379.23" x2="87.88" y2="400.51" stroke="#484848" stroke-width="0.8"/><line x1="86.38" y1="379.23" x2="89.38" y2="379.23" stroke="#484848" stroke-width="0.8"/><line x1="86.38" y1="400.51" x2="89.38" y2="400.51" stroke="#484848" stroke-width="0.8"/>
<line x1="159.25" y1="389.20" x2="159.25" y2="402.50" stroke="#484848" stroke-width="0.8"/><line x1="157.75" y1="389.20" x2="160.75" y2="389.20" stroke="#484848" stroke-width="0.8"/><line x1="157.75" y1="402.50" x2="160.75" y2="402.50" stroke="#484848" stroke-width="0.8"/>
<polyline points="16.50,441.74 34.34,444.40 87.88,444.40" fill="none" stroke="#000" stroke-width="0.95" stroke-dasharray="2 2.8"/>
<polyline points="16.50,441.07 25.42,438.75 34.34,439.41 52.19,391.20 70.03,389.87 87.88,389.87 159.25,395.86" fill="none" stroke="#000" stroke-width="1.15" stroke-linejoin="round"/>
<rect x="14.40" y="439.64" width="4.2" height="4.2" fill="#000"/>
<rect x="32.24" y="442.30" width="4.2" height="4.2" fill="#000"/>
<rect x="85.78" y="442.30" width="4.2" height="4.2" fill="#000"/>
<path d="M16.50 438.68L18.90 441.07L16.50 443.47L14.10 441.07Z" fill="#000"/><circle cx="16.50" cy="441.07" r="1.85" fill="#000"/>
<path d="M25.42 436.35L27.82 438.75L25.42 441.15L23.02 438.75Z" fill="#000"/><circle cx="25.42" cy="438.75" r="1.85" fill="#000"/>
<path d="M34.34 437.01L36.74 439.41L34.34 441.81L31.94 439.41Z" fill="#000"/><circle cx="34.34" cy="439.41" r="1.85" fill="#000"/>
<path d="M52.19 388.80L54.59 391.20L52.19 393.60L49.79 391.20Z" fill="#000"/><circle cx="52.19" cy="391.20" r="1.85" fill="#000"/>
<path d="M70.03 387.47L72.43 389.87L70.03 392.27L67.63 389.87Z" fill="#000"/><circle cx="70.03" cy="389.87" r="1.85" fill="#000"/>
<path d="M87.88 387.47L90.28 389.87L87.88 392.27L85.48 389.87Z" fill="#000"/><circle cx="87.88" cy="389.87" r="1.85" fill="#000"/>
<path d="M159.25 393.46L161.65 395.86L159.25 398.25L156.85 395.86Z" fill="#000"/><circle cx="159.25" cy="395.86" r="1.85" fill="#000"/>
<rect x="191.3" y="363.9" width="146.10" height="80.00" fill="none" stroke="#c4c4c4" stroke-width="0.9"/>
<text transform="translate(188.90,445.55) scale(0.9,1)" class="tk" text-anchor="end">0</text>
<text transform="translate(188.90,434.12) scale(0.9,1)" class="tk" text-anchor="end">20</text>
<text transform="translate(188.90,422.69) scale(0.9,1)" class="tk" text-anchor="end">40</text>
<text transform="translate(188.90,411.26) scale(0.9,1)" class="tk" text-anchor="end">60</text>
<text transform="translate(188.90,399.84) scale(0.9,1)" class="tk" text-anchor="end">80</text>
<text transform="translate(188.90,388.41) scale(0.9,1)" class="tk" text-anchor="end">100</text>
<text transform="translate(188.90,376.98) scale(0.9,1)" class="tk" text-anchor="end">120</text>
<text transform="translate(188.90,365.55) scale(0.9,1)" class="tk" text-anchor="end">140</text>
<text transform="translate(191.30,452.15) scale(0.9,1)" class="tk" text-anchor="middle">0</text>
<text transform="translate(227.82,452.15) scale(0.9,1)" class="tk" text-anchor="middle">50</text>
<text transform="translate(264.35,452.15) scale(0.9,1)" class="tk" text-anchor="middle">100</text>
<text transform="translate(300.88,452.15) scale(0.9,1)" class="tk" text-anchor="middle">150</text>
<text transform="translate(337.40,452.15) scale(0.9,1)" class="tk" text-anchor="middle">200</text>
<text x="259.15" y="358.60" class="ti" text-anchor="middle">CCL3</text>
<text transform="translate(179.40,401.05) rotate(-90)" x="0" y="0" class="yt" text-anchor="middle">Expression ratio G6PDX</text>
<text x="264.40" y="460.00" class="xt" text-anchor="middle">Time after infection (h)</text>
<line x1="191.30" y1="403.90" x2="191.30" y2="432.47" stroke="#484848" stroke-width="0.8"/><line x1="189.80" y1="403.90" x2="192.80" y2="403.90" stroke="#484848" stroke-width="0.8"/><line x1="189.80" y1="432.47" x2="192.80" y2="432.47" stroke="#484848" stroke-width="0.8"/>
<line x1="200.07" y1="369.04" x2="200.07" y2="393.04" stroke="#484848" stroke-width="0.8"/><line x1="198.57" y1="369.04" x2="201.57" y2="369.04" stroke="#484848" stroke-width="0.8"/><line x1="198.57" y1="393.04" x2="201.57" y2="393.04" stroke="#484848" stroke-width="0.8"/>
<polyline points="191.30,418.19 208.83,441.04 261.43,441.61" fill="none" stroke="#000" stroke-width="0.95" stroke-dasharray="2 2.8"/>
<polyline points="191.30,418.19 200.07,381.04 208.83,438.19 226.36,443.33 243.90,443.33 261.43,441.61 331.56,443.33" fill="none" stroke="#000" stroke-width="1.15" stroke-linejoin="round"/>
<rect x="189.20" y="416.09" width="4.2" height="4.2" fill="#000"/>
<rect x="206.73" y="438.94" width="4.2" height="4.2" fill="#000"/>
<rect x="259.33" y="439.51" width="4.2" height="4.2" fill="#000"/>
<path d="M191.30 415.79L193.70 418.19L191.30 420.59L188.90 418.19Z" fill="#000"/><circle cx="191.30" cy="418.19" r="1.85" fill="#000"/>
<path d="M200.07 378.64L202.47 381.04L200.07 383.44L197.67 381.04Z" fill="#000"/><circle cx="200.07" cy="381.04" r="1.85" fill="#000"/>
<path d="M208.83 435.79L211.23 438.19L208.83 440.59L206.43 438.19Z" fill="#000"/><circle cx="208.83" cy="438.19" r="1.85" fill="#000"/>
<path d="M226.36 440.93L228.76 443.33L226.36 445.73L223.96 443.33Z" fill="#000"/><circle cx="226.36" cy="443.33" r="1.85" fill="#000"/>
<path d="M243.90 440.93L246.30 443.33L243.90 445.73L241.50 443.33Z" fill="#000"/><circle cx="243.90" cy="443.33" r="1.85" fill="#000"/>
<path d="M261.43 439.21L263.83 441.61L261.43 444.01L259.03 441.61Z" fill="#000"/><circle cx="261.43" cy="441.61" r="1.85" fill="#000"/>
<path d="M331.56 440.93L333.96 443.33L331.56 445.73L329.16 443.33Z" fill="#000"/><circle cx="331.56" cy="443.33" r="1.85" fill="#000"/>
<rect x="364.4" y="364.1" width="150.80" height="79.60" fill="none" stroke="#c4c4c4" stroke-width="0.9"/>
<line x1="364.4" y1="364.1" x2="364.4" y2="443.7" stroke="#707070" stroke-width="0.6"/>
<text transform="translate(362.00,445.35) scale(0.9,1)" class="tk" text-anchor="end">0</text>
<text transform="translate(362.00,433.98) scale(0.9,1)" class="tk" text-anchor="end">1</text>
<text transform="translate(362.00,422.61) scale(0.9,1)" class="tk" text-anchor="end">2</text>
<text transform="translate(362.00,411.24) scale(0.9,1)" class="tk" text-anchor="end">3</text>
<text transform="translate(362.00,399.86) scale(0.9,1)" class="tk" text-anchor="end">4</text>
<text transform="translate(362.00,388.49) scale(0.9,1)" class="tk" text-anchor="end">5</text>
<text transform="translate(362.00,377.12) scale(0.9,1)" class="tk" text-anchor="end">6</text>
<text transform="translate(362.00,365.75) scale(0.9,1)" class="tk" text-anchor="end">7</text>
<text transform="translate(364.40,451.95) scale(0.9,1)" class="tk" text-anchor="middle">0</text>
<text transform="translate(402.10,451.95) scale(0.9,1)" class="tk" text-anchor="middle">50</text>
<text transform="translate(439.80,451.95) scale(0.9,1)" class="tk" text-anchor="middle">100</text>
<text transform="translate(477.50,451.95) scale(0.9,1)" class="tk" text-anchor="middle">150</text>
<text transform="translate(515.20,451.95) scale(0.9,1)" class="tk" text-anchor="middle">200</text>
<text x="437.55" y="358.80" class="ti" text-anchor="middle">Granzyme A</text>
<text transform="translate(355.60,401.40) rotate(-90)" x="0" y="0" class="yt" text-anchor="middle">Expression ratio G6PDX</text>
<text x="435.00" y="460.00" class="xt" text-anchor="middle">Time after infection (h)</text>
<line x1="364.40" y1="393.67" x2="364.40" y2="416.41" stroke="#484848" stroke-width="0.8"/><line x1="362.90" y1="393.67" x2="365.90" y2="393.67" stroke="#484848" stroke-width="0.8"/><line x1="362.90" y1="416.41" x2="365.90" y2="416.41" stroke="#484848" stroke-width="0.8"/>
<line x1="373.45" y1="389.69" x2="373.45" y2="412.43" stroke="#484848" stroke-width="0.8"/><line x1="371.95" y1="389.69" x2="374.95" y2="389.69" stroke="#484848" stroke-width="0.8"/><line x1="371.95" y1="412.43" x2="374.95" y2="412.43" stroke="#484848" stroke-width="0.8"/>
<line x1="382.50" y1="389.69" x2="382.50" y2="413.57" stroke="#484848" stroke-width="0.8"/><line x1="381.00" y1="389.69" x2="384.00" y2="389.69" stroke="#484848" stroke-width="0.8"/><line x1="381.00" y1="413.57" x2="384.00" y2="413.57" stroke="#484848" stroke-width="0.8"/>
<line x1="400.59" y1="418.11" x2="400.59" y2="440.86" stroke="#484848" stroke-width="0.8"/><line x1="399.09" y1="418.11" x2="402.09" y2="418.11" stroke="#484848" stroke-width="0.8"/><line x1="399.09" y1="440.86" x2="402.09" y2="440.86" stroke="#484848" stroke-width="0.8"/>
<line x1="418.69" y1="419.82" x2="418.69" y2="442.56" stroke="#484848" stroke-width="0.8"/><line x1="417.19" y1="419.82" x2="420.19" y2="419.82" stroke="#484848" stroke-width="0.8"/><line x1="417.19" y1="442.56" x2="420.19" y2="442.56" stroke="#484848" stroke-width="0.8"/>
<line x1="436.78" y1="373.20" x2="436.78" y2="395.94" stroke="#484848" stroke-width="0.8"/><line x1="435.28" y1="373.20" x2="438.28" y2="373.20" stroke="#484848" stroke-width="0.8"/><line x1="435.28" y1="395.94" x2="438.28" y2="395.94" stroke="#484848" stroke-width="0.8"/>
<line x1="509.17" y1="385.71" x2="509.17" y2="408.45" stroke="#484848" stroke-width="0.8"/><line x1="507.67" y1="385.71" x2="510.67" y2="385.71" stroke="#484848" stroke-width="0.8"/><line x1="507.67" y1="408.45" x2="510.67" y2="408.45" stroke="#484848" stroke-width="0.8"/>
<polyline points="364.40,405.04 382.50,440.29 436.78,440.86" fill="none" stroke="#000" stroke-width="0.95" stroke-dasharray="2 2.8"/>
<polyline points="364.40,405.04 373.45,401.06 382.50,401.63 400.59,429.49 418.69,431.19 436.78,384.57 509.17,397.08" fill="none" stroke="#000" stroke-width="1.15" stroke-linejoin="round"/>
<rect x="362.30" y="402.94" width="4.2" height="4.2" fill="#000"/>
<rect x="380.40" y="438.19" width="4.2" height="4.2" fill="#000"/>
<rect x="434.68" y="438.76" width="4.2" height="4.2" fill="#000"/>
<path d="M364.40 402.64L366.80 405.04L364.40 407.44L362.00 405.04Z" fill="#000"/><circle cx="364.40" cy="405.04" r="1.85" fill="#000"/>
<path d="M373.45 398.66L375.85 401.06L373.45 403.46L371.05 401.06Z" fill="#000"/><circle cx="373.45" cy="401.06" r="1.85" fill="#000"/>
<path d="M382.50 399.23L384.90 401.63L382.50 404.03L380.10 401.63Z" fill="#000"/><circle cx="382.50" cy="401.63" r="1.85" fill="#000"/>
<path d="M400.59 427.09L402.99 429.49L400.59 431.89L398.19 429.49Z" fill="#000"/><circle cx="400.59" cy="429.49" r="1.85" fill="#000"/>
<path d="M418.69 428.79L421.09 431.19L418.69 433.59L416.29 431.19Z" fill="#000"/><circle cx="418.69" cy="431.19" r="1.85" fill="#000"/>
<path d="M436.78 382.17L439.18 384.57L436.78 386.97L434.38 384.57Z" fill="#000"/><circle cx="436.78" cy="384.57" r="1.85" fill="#000"/>
<path d="M509.17 394.68L511.57 397.08L509.17 399.48L506.77 397.08Z" fill="#000"/><circle cx="509.17" cy="397.08" r="1.85" fill="#000"/>
<rect x="103.6" y="481.3" width="144.90" height="72.60" fill="none" stroke="#c4c4c4" stroke-width="0.9"/>
<text transform="translate(101.20,555.55) scale(0.9,1)" class="tk" text-anchor="end">0</text>
<text transform="translate(101.20,541.03) scale(0.9,1)" class="tk" text-anchor="end">50</text>
<text transform="translate(101.20,526.51) scale(0.9,1)" class="tk" text-anchor="end">100</text>
<text transform="translate(101.20,511.99) scale(0.9,1)" class="tk" text-anchor="end">150</text>
<text transform="translate(101.20,497.47) scale(0.9,1)" class="tk" text-anchor="end">200</text>
<text transform="translate(101.20,482.95) scale(0.9,1)" class="tk" text-anchor="end">250</text>
<text transform="translate(103.60,562.55) scale(0.9,1)" class="tk" text-anchor="middle">0</text>
<text transform="translate(139.82,562.55) scale(0.9,1)" class="tk" text-anchor="middle">50</text>
<text transform="translate(176.05,562.55) scale(0.9,1)" class="tk" text-anchor="middle">100</text>
<text transform="translate(212.27,562.55) scale(0.9,1)" class="tk" text-anchor="middle">150</text>
<text transform="translate(248.50,562.55) scale(0.9,1)" class="tk" text-anchor="middle">200</text>
<text x="168.65" y="474.10" class="ti" text-anchor="middle">Granzyme B</text>
<text transform="translate(90.50,518.20) rotate(-90)" x="0" y="0" class="yt" text-anchor="middle">Expression ratio G6PDX</text>
<text x="170.00" y="571.00" class="xt" text-anchor="middle">Time after infection (h)</text>
<line x1="103.60" y1="535.20" x2="103.60" y2="541.01" stroke="#484848" stroke-width="0.8"/><line x1="102.10" y1="535.20" x2="105.10" y2="535.20" stroke="#484848" stroke-width="0.8"/><line x1="102.10" y1="541.01" x2="105.10" y2="541.01" stroke="#484848" stroke-width="0.8"/>
<line x1="112.29" y1="502.62" x2="112.29" y2="513.65" stroke="#484848" stroke-width="0.8"/><line x1="110.79" y1="502.62" x2="113.79" y2="502.62" stroke="#484848" stroke-width="0.8"/><line x1="110.79" y1="513.65" x2="113.79" y2="513.65" stroke="#484848" stroke-width="0.8"/>
<line x1="120.99" y1="497.24" x2="120.99" y2="510.31" stroke="#484848" stroke-width="0.8"/><line x1="119.49" y1="497.24" x2="122.49" y2="497.24" stroke="#484848" stroke-width="0.8"/><line x1="119.49" y1="510.31" x2="122.49" y2="510.31" stroke="#484848" stroke-width="0.8"/>
<line x1="173.15" y1="542.86" x2="173.15" y2="547.51" stroke="#484848" stroke-width="0.8"/><line x1="171.65" y1="542.86" x2="174.65" y2="542.86" stroke="#484848" stroke-width="0.8"/><line x1="171.65" y1="547.51" x2="174.65" y2="547.51" stroke="#484848" stroke-width="0.8"/>
<line x1="242.70" y1="544.67" x2="242.70" y2="549.31" stroke="#484848" stroke-width="0.8"/><line x1="241.20" y1="544.67" x2="244.20" y2="544.67" stroke="#484848" stroke-width="0.8"/><line x1="241.20" y1="549.31" x2="244.20" y2="549.31" stroke="#484848" stroke-width="0.8"/>
<line x1="120.99" y1="538.51" x2="120.99" y2="543.16" stroke="#484848" stroke-width="0.8"/><line x1="119.49" y1="538.51" x2="122.49" y2="538.51" stroke="#484848" stroke-width="0.8"/><line x1="119.49" y1="543.16" x2="122.49" y2="543.16" stroke="#484848" stroke-width="0.8"/>
<polyline points="103.60,538.10 120.99,540.83 173.15,543.74" fill="none" stroke="#000" stroke-width="0.95" stroke-dasharray="2 2.8"/>
<polyline points="103.60,538.10 112.29,508.13 120.99,503.78 138.38,549.54 155.76,551.00 173.15,545.19 242.70,546.99" fill="none" stroke="#000" stroke-width="1.15" stroke-linejoin="round"/>
<rect x="101.50" y="536.00" width="4.2" height="4.2" fill="#000"/>
<rect x="118.89" y="538.73" width="4.2" height="4.2" fill="#000"/>
<rect x="171.05" y="541.64" width="4.2" height="4.2" fill="#000"/>
<path d="M103.60 535.70L106.00 538.10L103.60 540.50L101.20 538.10Z" fill="#000"/><circle cx="103.60" cy="538.10" r="1.85" fill="#000"/>
<path d="M112.29 505.73L114.69 508.13L112.29 510.53L109.89 508.13Z" fill="#000"/><circle cx="112.29" cy="508.13" r="1.85" fill="#000"/>
<path d="M120.99 501.38L123.39 503.78L120.99 506.18L118.59 503.78Z" fill="#000"/><circle cx="120.99" cy="503.78" r="1.85" fill="#000"/>
<path d="M138.38 547.14L140.78 549.54L138.38 551.94L135.98 549.54Z" fill="#000"/><circle cx="138.38" cy="549.54" r="1.85" fill="#000"/>
<path d="M155.76 548.60L158.16 551.00L155.76 553.40L153.36 551.00Z" fill="#000"/><circle cx="155.76" cy="551.00" r="1.85" fill="#000"/>
<path d="M173.15 542.79L175.55 545.19L173.15 547.59L170.75 545.19Z" fill="#000"/><circle cx="173.15" cy="545.19" r="1.85" fill="#000"/>
<path d="M242.70 544.59L245.10 546.99L242.70 549.39L240.30 546.99Z" fill="#000"/><circle cx="242.70" cy="546.99" r="1.85" fill="#000"/>
<rect x="288.4" y="478.3" width="147.90" height="80.10" fill="none" stroke="#c4c4c4" stroke-width="0.9"/>
<text transform="translate(286.00,560.05) scale(0.9,1)" class="tk" text-anchor="end">0</text>
<text transform="translate(286.00,552.04) scale(0.9,1)" class="tk" text-anchor="end">0.5</text>
<text transform="translate(286.00,544.03) scale(0.9,1)" class="tk" text-anchor="end">1</text>
<text transform="translate(286.00,536.02) scale(0.9,1)" class="tk" text-anchor="end">1.5</text>
<text transform="translate(286.00,528.01) scale(0.9,1)" class="tk" text-anchor="end">2</text>
<text transform="translate(286.00,520.00) scale(0.9,1)" class="tk" text-anchor="end">2.5</text>
<text transform="translate(286.00,511.99) scale(0.9,1)" class="tk" text-anchor="end">3</text>
<text transform="translate(286.00,503.98) scale(0.9,1)" class="tk" text-anchor="end">3.5</text>
<text transform="translate(286.00,495.97) scale(0.9,1)" class="tk" text-anchor="end">4</text>
<text transform="translate(286.00,487.96) scale(0.9,1)" class="tk" text-anchor="end">4.5</text>
<text transform="translate(286.00,479.95) scale(0.9,1)" class="tk" text-anchor="end">5</text>
<text transform="translate(288.40,567.05) scale(0.9,1)" class="tk" text-anchor="middle">0</text>
<text transform="translate(325.38,567.05) scale(0.9,1)" class="tk" text-anchor="middle">50</text>
<text transform="translate(362.35,567.05) scale(0.9,1)" class="tk" text-anchor="middle">100</text>
<text transform="translate(399.32,567.05) scale(0.9,1)" class="tk" text-anchor="middle">150</text>
<text transform="translate(436.30,567.05) scale(0.9,1)" class="tk" text-anchor="middle">200</text>
<text x="359.35" y="473.70" class="ti" text-anchor="middle">Perforin</text>
<text transform="translate(275.00,518.90) rotate(-90)" x="0" y="0" class="yt" text-anchor="middle">Expression ratio G6PDX</text>
<text x="365.10" y="575.40" class="xt" text-anchor="middle">Time after infection (h)</text>
<line x1="288.40" y1="539.18" x2="288.40" y2="543.98" stroke="#484848" stroke-width="0.8"/><line x1="286.90" y1="539.18" x2="289.90" y2="539.18" stroke="#484848" stroke-width="0.8"/><line x1="286.90" y1="543.98" x2="289.90" y2="543.98" stroke="#484848" stroke-width="0.8"/>
<line x1="297.27" y1="483.91" x2="297.27" y2="499.93" stroke="#484848" stroke-width="0.8"/><line x1="295.77" y1="483.91" x2="298.77" y2="483.91" stroke="#484848" stroke-width="0.8"/><line x1="295.77" y1="499.93" x2="298.77" y2="499.93" stroke="#484848" stroke-width="0.8"/>
<line x1="306.15" y1="519.15" x2="306.15" y2="528.76" stroke="#484848" stroke-width="0.8"/><line x1="304.65" y1="519.15" x2="307.65" y2="519.15" stroke="#484848" stroke-width="0.8"/><line x1="304.65" y1="528.76" x2="307.65" y2="528.76" stroke="#484848" stroke-width="0.8"/>
<line x1="430.38" y1="531.49" x2="430.38" y2="547.51" stroke="#484848" stroke-width="0.8"/><line x1="428.88" y1="531.49" x2="431.88" y2="531.49" stroke="#484848" stroke-width="0.8"/><line x1="428.88" y1="547.51" x2="431.88" y2="547.51" stroke="#484848" stroke-width="0.8"/>
<line x1="306.15" y1="534.85" x2="306.15" y2="555.04" stroke="#484848" stroke-width="0.8"/><line x1="304.65" y1="534.85" x2="307.65" y2="534.85" stroke="#484848" stroke-width="0.8"/><line x1="304.65" y1="555.04" x2="307.65" y2="555.04" stroke="#484848" stroke-width="0.8"/>
<line x1="359.39" y1="547.99" x2="359.39" y2="551.19" stroke="#484848" stroke-width="0.8"/><line x1="357.89" y1="547.99" x2="360.89" y2="547.99" stroke="#484848" stroke-width="0.8"/><line x1="357.89" y1="551.19" x2="360.89" y2="551.19" stroke="#484848" stroke-width="0.8"/>
<polyline points="288.40,541.58 306.15,544.94 359.39,549.59" fill="none" stroke="#000" stroke-width="0.95" stroke-dasharray="2 2.8"/>
<polyline points="288.40,541.58 297.27,491.92 306.15,523.96 323.90,555.20 341.64,551.99 359.39,542.38 430.38,539.50" fill="none" stroke="#000" stroke-width="1.15" stroke-linejoin="round"/>
<rect x="286.30" y="539.48" width="4.2" height="4.2" fill="#000"/>
<rect x="304.05" y="542.84" width="4.2" height="4.2" fill="#000"/>
<rect x="357.29" y="547.49" width="4.2" height="4.2" fill="#000"/>
<path d="M288.40 539.18L290.80 541.58L288.40 543.98L286.00 541.58Z" fill="#000"/><circle cx="288.40" cy="541.58" r="1.85" fill="#000"/>
<path d="M297.27 489.52L299.67 491.92L297.27 494.32L294.87 491.92Z" fill="#000"/><circle cx="297.27" cy="491.92" r="1.85" fill="#000"/>
<path d="M306.15 521.56L308.55 523.96L306.15 526.36L303.75 523.96Z" fill="#000"/><circle cx="306.15" cy="523.96" r="1.85" fill="#000"/>
<path d="M323.90 552.80L326.30 555.20L323.90 557.60L321.50 555.20Z" fill="#000"/><circle cx="323.90" cy="555.20" r="1.85" fill="#000"/>
<path d="M341.64 549.59L344.04 551.99L341.64 554.39L339.24 551.99Z" fill="#000"/><circle cx="341.64" cy="551.99" r="1.85" fill="#000"/>
<path d="M359.39 539.98L361.79 542.38L359.39 544.78L356.99 542.38Z" fill="#000"/><circle cx="359.39" cy="542.38" r="1.85" fill="#000"/>
<path d="M430.38 537.10L432.78 539.50L430.38 541.90L427.98 539.50Z" fill="#000"/><circle cx="430.38" cy="539.50" r="1.85" fill="#000"/>
</svg>
</body></html>
